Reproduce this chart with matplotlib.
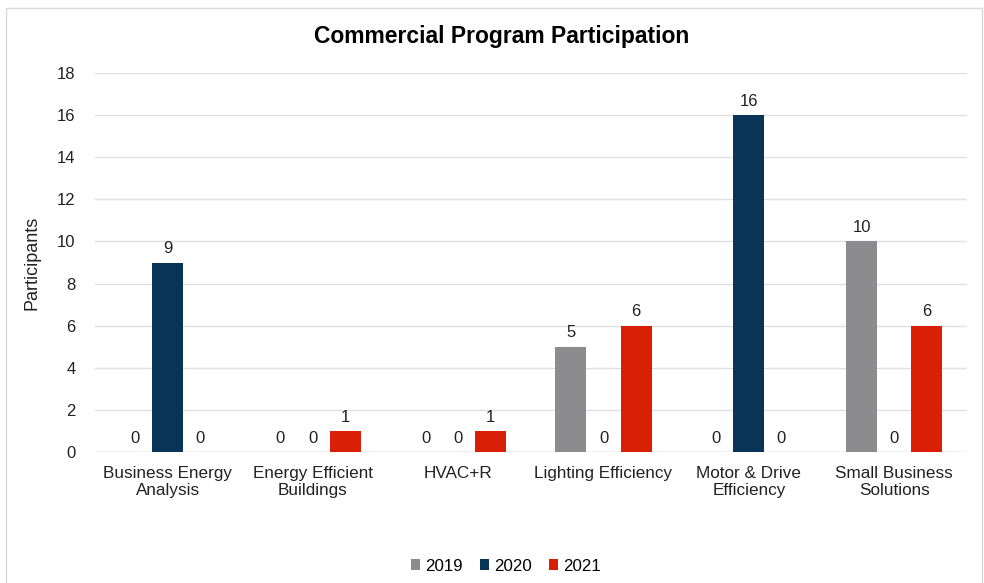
import numpy as np
import matplotlib.pyplot as plt
from matplotlib.patches import Rectangle

# program participation counts by year
programs = ["Business Energy\nAnalysis", "Energy Efficient\nBuildings", "HVAC+R",
            "Lighting Efficiency", "Motor & Drive\nEfficiency", "Small Business\nSolutions"]
years = ["2019", "2020", "2021"]
p2019 = [0, 0, 0, 5, 0, 10]
p2020 = [9, 0, 0, 0, 16, 0]
p2021 = [0, 1, 1, 6, 0, 6]
colors = ["#8c8c8e", "#073457", "#d91f05"]

plt.rcParams["font.family"] = ["Liberation Sans", "DejaVu Sans"]

fig = plt.figure(figsize=(9.84, 5.83), dpi=100)
ax = fig.add_axes([0.0965, 0.2247, 0.886, 0.65])

x = np.arange(len(programs))
offset = 0.224
width = 0.213
for i, (vals, yr, c) in enumerate(zip([p2019, p2020, p2021], years, colors)):
    pos = x + (i - 1) * offset
    ax.bar(pos, vals, width=width, color=c, label=yr, zorder=3)
    for xb, v in zip(pos, vals):
        ax.text(xb, v + 0.3, str(v), ha="center", va="bottom", fontsize=12, color="#222222")

ax.set_xlim(-0.5, len(programs) - 0.5)
ax.set_ylim(0, 18)
ax.set_yticks(range(0, 19, 2))
ax.set_xticks(x)
ax.set_xticklabels(programs, fontsize=12.3, color="#222222", linespacing=1.15)
ax.tick_params(axis="y", labelsize=12, labelcolor="#222222", length=0, pad=14)
ax.tick_params(axis="x", length=0, pad=10)
ax.grid(axis="y", color="#e0e0e0", linewidth=1, zorder=0)
for s in ax.spines.values():
    s.set_visible(False)
ax.axhline(0, color="#e0e0e0", linewidth=1, zorder=1)
ax.set_ylabel("Participants", fontsize=13, color="#222222", labelpad=12)

fig.suptitle("Commercial Program Participation", x=0.51, y=0.957,
             fontsize=16.5, fontweight="bold")

fig.legend(loc="lower center", ncol=3, frameon=False, bbox_to_anchor=(0.514, -0.01),
           fontsize=12.2, handlelength=0.55, handleheight=0.55, handletextpad=0.3,
           columnspacing=1.0)

# outer chart border
fig.patches.append(Rectangle((6 / 984, -0.05), 976 / 984, 1 - 8 / 583 + 0.05,
                             transform=fig.transFigure, fill=False,
                             edgecolor="#d9d9d9", linewidth=1))

fig.savefig("out.png", dpi=100)
